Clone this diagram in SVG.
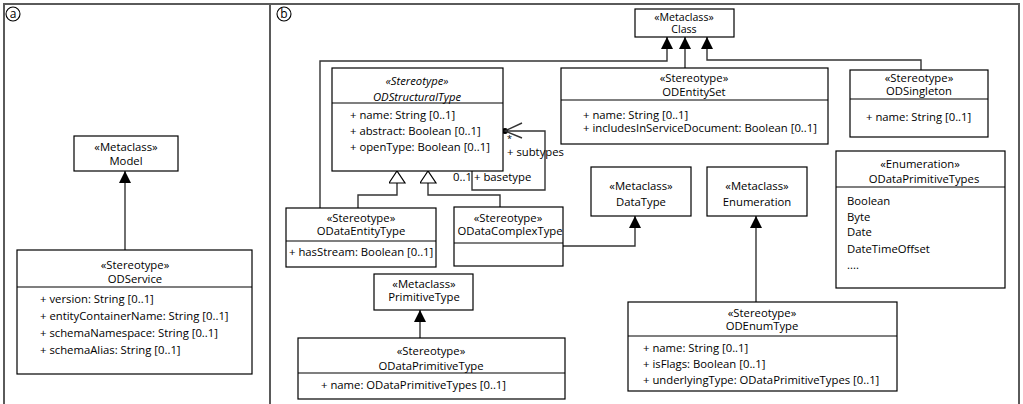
<svg xmlns="http://www.w3.org/2000/svg" width="1023" height="404" viewBox="0 0 1023 404">
<defs>
<style>
text{font-family:"Open Sans","Noto Sans","DejaVu Sans",sans-serif;font-size:11.3px;fill:#000}
.c{text-anchor:middle}
.i{font-style:italic}
.s{font-size:10.6px}
.box{fill:#fff;stroke:#000;stroke-width:1.2}
.div{stroke:#000;stroke-width:1.2}
.frame{fill:none;stroke:#5a5a5a;stroke-width:2}
.con{fill:none;stroke:#333;stroke-width:1.4}
</style>
<marker id="fill" viewBox="0 0 12 16" refX="12" refY="6" markerWidth="12" markerHeight="16" markerUnits="userSpaceOnUse" orient="auto">
<path d="M0,0 L12,6 L0,12 Z" fill="#000"/>
</marker>
<marker id="hollow" viewBox="0 0 14 18" refX="13" refY="8" markerWidth="14" markerHeight="18" markerUnits="userSpaceOnUse" orient="auto">
<path d="M1,0 L13,8 L1,16 Z" fill="#fff" stroke="#000" stroke-width="1.2"/>
</marker>
</defs>
<rect width="1023" height="404" fill="#fff"/>
<g id="frames">
<path class="frame" d="M4,404 V4 H1019 V404 M270,4 V404"/>
<circle cx="13" cy="14" r="7" fill="none" stroke="#000" stroke-width="1.1"/>
<text x="13" y="18" class="c" style="font-size:12px">a</text>
<circle cx="284" cy="14" r="7" fill="none" stroke="#000" stroke-width="1.1"/>
<text x="284" y="18" class="c" style="font-size:12px">b</text>
</g>
<g id="connectors">
<path class="con" d="M125,250 V171" marker-end="url(#fill)"/>
<path class="con" d="M320,208 V61 H667 V37" marker-end="url(#fill)"/>
<path class="con" d="M685,68 V37" marker-end="url(#fill)"/>
<path class="con" d="M921,70 V60 H707 V37" marker-end="url(#fill)"/>
<path class="con" d="M358,208 V195 H397 V171" marker-end="url(#hollow)"/>
<path class="con" d="M500,207 V195 H428 V171" marker-end="url(#hollow)"/>
<path class="con" d="M563,246 H635 V216" marker-end="url(#fill)"/>
<path class="con" d="M756,302 V216" marker-end="url(#fill)"/>
<path class="con" d="M420,338 V310" marker-end="url(#fill)"/>
<path class="con" d="M472,171 V190 H545 V131 H505"/>
<circle cx="505" cy="131" r="3" fill="#000"/>
<path class="con" d="M522,123 L505,131 L522,138"/>
<text x="507" y="142" style="font-size:9px">*</text>
<text x="507" y="156">+ subtypes</text>
<text x="453" y="181">0..1</text>
<text x="474" y="181">+ basetype</text>
</g>
<g id="Model">
<rect class="box" x="74" y="136" width="104" height="35"/>
<text x="126" y="151" class="c">«Metaclass»</text>
<text x="126" y="165" class="c">Model</text>
</g>
<g id="ODService">
<rect class="box" x="17" y="250" width="235" height="124"/>
<line class="div" x1="17" y1="287" x2="252" y2="287"/>
<text x="135" y="269" class="c">«Stereotype»</text>
<text x="135" y="283" class="c">ODService</text>
<text x="40" y="303">+ version: String [0..1]</text>
<text x="40" y="320">+ entityContainerName: String [0..1]</text>
<text x="40" y="337">+ schemaNamespace: String [0..1]</text>
<text x="40" y="354">+ schemaAlias: String [0..1]</text>
</g>
<g id="Class">
<rect class="box" x="635" y="9" width="99" height="28"/>
<text x="684" y="21" class="c s">«Metaclass»</text>
<text x="684" y="33" class="c s">Class</text>
</g>
<g id="ODStructuralType">
<rect class="box" x="332" y="68" width="171" height="103"/>
<line class="div" x1="332" y1="103" x2="503" y2="103"/>
<text x="417" y="85" class="c i">«Stereotype»</text>
<text x="417" y="101" class="c i">ODStructuralType</text>
<text x="350" y="119">+ name: String [0..1]</text>
<text x="350" y="135">+ abstract: Boolean [0..1]</text>
<text x="350" y="151">+ openType: Boolean [0..1]</text>
</g>
<g id="ODEntitySet">
<rect class="box" x="561" y="68" width="267" height="76"/>
<line class="div" x1="561" y1="100" x2="828" y2="100"/>
<text x="694" y="82" class="c">«Stereotype»</text>
<text x="694" y="96" class="c">ODEntitySet</text>
<text x="583" y="119">+ name: String [0..1]</text>
<text x="583" y="132">+ includesInServiceDocument: Boolean [0..1]</text>
</g>
<g id="ODSingleton">
<rect class="box" x="850" y="70" width="138" height="67"/>
<line class="div" x1="850" y1="99" x2="988" y2="99"/>
<text x="919" y="82" class="c">«Stereotype»</text>
<text x="919" y="95" class="c">ODSingleton</text>
<text x="866" y="121">+ name: String [0..1]</text>
</g>
<g id="ODataPrimitiveTypes">
<rect class="box" x="836" y="151" width="169" height="137"/>
<line class="div" x1="836" y1="187" x2="1005" y2="187"/>
<text x="920" y="168" class="c">«Enumeration»</text>
<text x="924" y="183" class="c">ODataPrimitiveTypes</text>
<text x="847" y="205">Boolean</text>
<text x="847" y="221">Byte</text>
<text x="847" y="236">Date</text>
<text x="847" y="253">DateTimeOffset</text>
<text x="847" y="269">....</text>
</g>
<g id="ODataEntityType">
<rect class="box" x="286" y="208" width="150" height="59"/>
<line class="div" x1="286" y1="241" x2="436" y2="241"/>
<text x="361" y="222" class="c">«Stereotype»</text>
<text x="361" y="235" class="c">ODataEntityType</text>
<text x="289" y="256">+ hasStream: Boolean [0..1]</text>
</g>
<g id="ODataComplexType">
<rect class="box" x="454" y="207" width="109" height="59"/>
<line class="div" x1="454" y1="243" x2="563" y2="243"/>
<text x="508" y="222" class="c">«Stereotype»</text>
<text x="510" y="235" class="c">ODataComplexType</text>
</g>
<g id="DataType">
<rect class="box" x="591" y="167" width="100" height="49"/>
<text x="641" y="190" class="c">«Metaclass»</text>
<text x="641" y="206" class="c">DataType</text>
</g>
<g id="Enumeration">
<rect class="box" x="707" y="167" width="100" height="49"/>
<text x="757" y="190" class="c">«Metaclass»</text>
<text x="757" y="206" class="c">Enumeration</text>
</g>
<g id="ODEnumType">
<rect class="box" x="628" y="302" width="269" height="89"/>
<line class="div" x1="628" y1="336" x2="897" y2="336"/>
<text x="762" y="317" class="c">«Stereotype»</text>
<text x="762" y="330" class="c">ODEnumType</text>
<text x="643" y="352">+ name: String [0..1]</text>
<text x="643" y="368">+ isFlags: Boolean [0..1]</text>
<text x="643" y="384">+ underlyingType: ODataPrimitiveTypes [0..1]</text>
</g>
<g id="PrimitiveType">
<rect class="box" x="374" y="274" width="99" height="36"/>
<text x="424" y="288" class="c">«Metaclass»</text>
<text x="424" y="301" class="c">PrimitiveType</text>
</g>
<g id="ODataPrimitiveType">
<rect class="box" x="298" y="338" width="267" height="61"/>
<line class="div" x1="298" y1="373" x2="565" y2="373"/>
<text x="431" y="355" class="c">«Stereotype»</text>
<text x="431" y="370" class="c">ODataPrimitiveType</text>
<text x="321" y="389">+ name: ODataPrimitiveTypes [0..1]</text>
</g>
</svg>
